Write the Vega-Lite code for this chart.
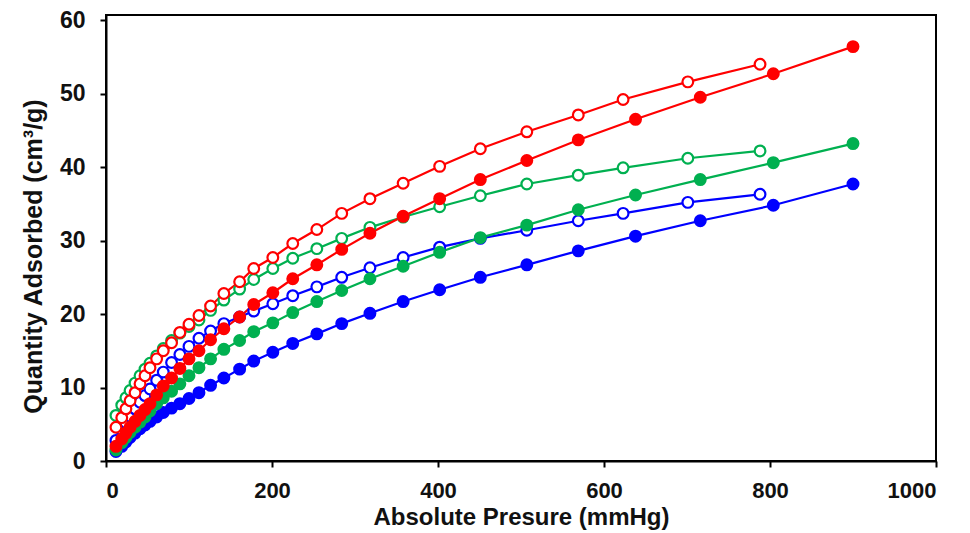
{
  "$schema": "https://vega.github.io/schema/vega-lite/v6.json",
  "width": 830,
  "height": 446,
  "autosize": "none",
  "padding": {"left": 106, "top": 15, "right": 34, "bottom": 72},
  "background": "white",
  "config": {
    "view": {"stroke": "black", "strokeWidth": 2},
    "font": "Liberation Sans",
    "axis": {"grid": false, "domainColor": "black", "domainWidth": 2, "tickColor": "black", "tickWidth": 2, "tickSize": 6,
      "labelFont": "Liberation Sans", "labelFontWeight": "bold", "labelFontSize": 23, "labelColor": "#111",
      "titleFont": "Liberation Sans", "titleFontWeight": "bold", "titleFontSize": 25, "titleColor": "#111"}
  },
  "data": {"values": [
    {"sample":"Blue","set":"filled","pressure":12,"quantity":1.3},{"sample":"Blue","set":"filled","pressure":19,"quantity":2.0},{"sample":"Blue","set":"filled","pressure":24,"quantity":2.6},{"sample":"Blue","set":"filled","pressure":29,"quantity":3.2},{"sample":"Blue","set":"filled","pressure":35,"quantity":3.8},{"sample":"Blue","set":"filled","pressure":41,"quantity":4.4},{"sample":"Blue","set":"filled","pressure":47,"quantity":4.9},{"sample":"Blue","set":"filled","pressure":53,"quantity":5.4},{"sample":"Blue","set":"filled","pressure":61,"quantity":6.0},{"sample":"Blue","set":"filled","pressure":69,"quantity":6.6},{"sample":"Blue","set":"filled","pressure":79,"quantity":7.2},{"sample":"Blue","set":"filled","pressure":89,"quantity":7.8},{"sample":"Blue","set":"filled","pressure":100,"quantity":8.5},{"sample":"Blue","set":"filled","pressure":112,"quantity":9.3},{"sample":"Blue","set":"filled","pressure":126,"quantity":10.3},{"sample":"Blue","set":"filled","pressure":142,"quantity":11.3},{"sample":"Blue","set":"filled","pressure":161,"quantity":12.5},{"sample":"Blue","set":"filled","pressure":178,"quantity":13.6},{"sample":"Blue","set":"filled","pressure":201,"quantity":14.8},{"sample":"Blue","set":"filled","pressure":225,"quantity":16.0},{"sample":"Blue","set":"filled","pressure":254,"quantity":17.3},{"sample":"Blue","set":"filled","pressure":284,"quantity":18.7},{"sample":"Blue","set":"filled","pressure":318,"quantity":20.1},{"sample":"Blue","set":"filled","pressure":358,"quantity":21.7},{"sample":"Blue","set":"filled","pressure":402,"quantity":23.3},{"sample":"Blue","set":"filled","pressure":451,"quantity":25.0},{"sample":"Blue","set":"filled","pressure":507,"quantity":26.7},{"sample":"Blue","set":"filled","pressure":569,"quantity":28.6},{"sample":"Blue","set":"filled","pressure":638,"quantity":30.6},{"sample":"Blue","set":"filled","pressure":716,"quantity":32.7},{"sample":"Blue","set":"filled","pressure":804,"quantity":34.8},{"sample":"Blue","set":"filled","pressure":900,"quantity":37.7},
    {"sample":"Blue","set":"open","pressure":12,"quantity":2.8},{"sample":"Blue","set":"open","pressure":19,"quantity":4.2},{"sample":"Blue","set":"open","pressure":24,"quantity":5.2},{"sample":"Blue","set":"open","pressure":29,"quantity":6.1},{"sample":"Blue","set":"open","pressure":35,"quantity":7.1},{"sample":"Blue","set":"open","pressure":41,"quantity":8.0},{"sample":"Blue","set":"open","pressure":47,"quantity":8.9},{"sample":"Blue","set":"open","pressure":53,"quantity":9.8},{"sample":"Blue","set":"open","pressure":61,"quantity":11.0},{"sample":"Blue","set":"open","pressure":69,"quantity":12.1},{"sample":"Blue","set":"open","pressure":79,"quantity":13.4},{"sample":"Blue","set":"open","pressure":89,"quantity":14.5},{"sample":"Blue","set":"open","pressure":100,"quantity":15.6},{"sample":"Blue","set":"open","pressure":112,"quantity":16.7},{"sample":"Blue","set":"open","pressure":126,"quantity":17.7},{"sample":"Blue","set":"open","pressure":142,"quantity":18.7},{"sample":"Blue","set":"open","pressure":161,"quantity":19.6},{"sample":"Blue","set":"open","pressure":178,"quantity":20.4},{"sample":"Blue","set":"open","pressure":201,"quantity":21.4},{"sample":"Blue","set":"open","pressure":225,"quantity":22.5},{"sample":"Blue","set":"open","pressure":254,"quantity":23.7},{"sample":"Blue","set":"open","pressure":284,"quantity":25.0},{"sample":"Blue","set":"open","pressure":318,"quantity":26.3},{"sample":"Blue","set":"open","pressure":358,"quantity":27.7},{"sample":"Blue","set":"open","pressure":402,"quantity":29.1},{"sample":"Blue","set":"open","pressure":451,"quantity":30.3},{"sample":"Blue","set":"open","pressure":507,"quantity":31.4},{"sample":"Blue","set":"open","pressure":569,"quantity":32.7},{"sample":"Blue","set":"open","pressure":623,"quantity":33.7},{"sample":"Blue","set":"open","pressure":701,"quantity":35.2},{"sample":"Blue","set":"open","pressure":788,"quantity":36.3},
    {"sample":"Green","set":"filled","pressure":12,"quantity":1.5},{"sample":"Green","set":"filled","pressure":19,"quantity":2.5},{"sample":"Green","set":"filled","pressure":24,"quantity":3.2},{"sample":"Green","set":"filled","pressure":29,"quantity":3.9},{"sample":"Green","set":"filled","pressure":35,"quantity":4.6},{"sample":"Green","set":"filled","pressure":41,"quantity":5.3},{"sample":"Green","set":"filled","pressure":47,"quantity":6.0},{"sample":"Green","set":"filled","pressure":53,"quantity":6.8},{"sample":"Green","set":"filled","pressure":61,"quantity":7.8},{"sample":"Green","set":"filled","pressure":69,"quantity":8.6},{"sample":"Green","set":"filled","pressure":79,"quantity":9.5},{"sample":"Green","set":"filled","pressure":89,"quantity":10.5},{"sample":"Green","set":"filled","pressure":100,"quantity":11.6},{"sample":"Green","set":"filled","pressure":112,"quantity":12.7},{"sample":"Green","set":"filled","pressure":126,"quantity":13.9},{"sample":"Green","set":"filled","pressure":142,"quantity":15.2},{"sample":"Green","set":"filled","pressure":161,"quantity":16.4},{"sample":"Green","set":"filled","pressure":178,"quantity":17.6},{"sample":"Green","set":"filled","pressure":201,"quantity":18.8},{"sample":"Green","set":"filled","pressure":225,"quantity":20.2},{"sample":"Green","set":"filled","pressure":254,"quantity":21.7},{"sample":"Green","set":"filled","pressure":284,"quantity":23.2},{"sample":"Green","set":"filled","pressure":318,"quantity":24.8},{"sample":"Green","set":"filled","pressure":358,"quantity":26.5},{"sample":"Green","set":"filled","pressure":402,"quantity":28.4},{"sample":"Green","set":"filled","pressure":451,"quantity":30.4},{"sample":"Green","set":"filled","pressure":507,"quantity":32.1},{"sample":"Green","set":"filled","pressure":569,"quantity":34.2},{"sample":"Green","set":"filled","pressure":638,"quantity":36.2},{"sample":"Green","set":"filled","pressure":716,"quantity":38.3},{"sample":"Green","set":"filled","pressure":804,"quantity":40.6},{"sample":"Green","set":"filled","pressure":900,"quantity":43.2},
    {"sample":"Green","set":"open","pressure":12,"quantity":6.2},{"sample":"Green","set":"open","pressure":19,"quantity":7.6},{"sample":"Green","set":"open","pressure":24,"quantity":8.6},{"sample":"Green","set":"open","pressure":29,"quantity":9.6},{"sample":"Green","set":"open","pressure":35,"quantity":10.6},{"sample":"Green","set":"open","pressure":41,"quantity":11.6},{"sample":"Green","set":"open","pressure":47,"quantity":12.5},{"sample":"Green","set":"open","pressure":53,"quantity":13.3},{"sample":"Green","set":"open","pressure":61,"quantity":14.3},{"sample":"Green","set":"open","pressure":69,"quantity":15.3},{"sample":"Green","set":"open","pressure":79,"quantity":16.4},{"sample":"Green","set":"open","pressure":89,"quantity":17.4},{"sample":"Green","set":"open","pressure":100,"quantity":18.3},{"sample":"Green","set":"open","pressure":112,"quantity":19.2},{"sample":"Green","set":"open","pressure":126,"quantity":20.5},{"sample":"Green","set":"open","pressure":142,"quantity":21.9},{"sample":"Green","set":"open","pressure":161,"quantity":23.4},{"sample":"Green","set":"open","pressure":178,"quantity":24.7},{"sample":"Green","set":"open","pressure":201,"quantity":26.2},{"sample":"Green","set":"open","pressure":225,"quantity":27.6},{"sample":"Green","set":"open","pressure":254,"quantity":28.9},{"sample":"Green","set":"open","pressure":284,"quantity":30.3},{"sample":"Green","set":"open","pressure":318,"quantity":31.8},{"sample":"Green","set":"open","pressure":358,"quantity":33.2},{"sample":"Green","set":"open","pressure":402,"quantity":34.6},{"sample":"Green","set":"open","pressure":451,"quantity":36.1},{"sample":"Green","set":"open","pressure":507,"quantity":37.7},{"sample":"Green","set":"open","pressure":569,"quantity":38.9},{"sample":"Green","set":"open","pressure":623,"quantity":39.9},{"sample":"Green","set":"open","pressure":701,"quantity":41.2},{"sample":"Green","set":"open","pressure":788,"quantity":42.2},
    {"sample":"Red","set":"filled","pressure":12,"quantity":2.0},{"sample":"Red","set":"filled","pressure":19,"quantity":3.0},{"sample":"Red","set":"filled","pressure":24,"quantity":3.8},{"sample":"Red","set":"filled","pressure":29,"quantity":4.6},{"sample":"Red","set":"filled","pressure":35,"quantity":5.4},{"sample":"Red","set":"filled","pressure":41,"quantity":6.2},{"sample":"Red","set":"filled","pressure":47,"quantity":7.0},{"sample":"Red","set":"filled","pressure":53,"quantity":7.8},{"sample":"Red","set":"filled","pressure":61,"quantity":9.0},{"sample":"Red","set":"filled","pressure":69,"quantity":10.2},{"sample":"Red","set":"filled","pressure":79,"quantity":11.3},{"sample":"Red","set":"filled","pressure":89,"quantity":12.6},{"sample":"Red","set":"filled","pressure":100,"quantity":13.9},{"sample":"Red","set":"filled","pressure":112,"quantity":15.0},{"sample":"Red","set":"filled","pressure":126,"quantity":16.5},{"sample":"Red","set":"filled","pressure":142,"quantity":18.0},{"sample":"Red","set":"filled","pressure":161,"quantity":19.6},{"sample":"Red","set":"filled","pressure":178,"quantity":21.3},{"sample":"Red","set":"filled","pressure":201,"quantity":22.9},{"sample":"Red","set":"filled","pressure":225,"quantity":24.8},{"sample":"Red","set":"filled","pressure":254,"quantity":26.7},{"sample":"Red","set":"filled","pressure":284,"quantity":28.8},{"sample":"Red","set":"filled","pressure":318,"quantity":31.0},{"sample":"Red","set":"filled","pressure":358,"quantity":33.3},{"sample":"Red","set":"filled","pressure":402,"quantity":35.7},{"sample":"Red","set":"filled","pressure":451,"quantity":38.3},{"sample":"Red","set":"filled","pressure":507,"quantity":40.9},{"sample":"Red","set":"filled","pressure":569,"quantity":43.7},{"sample":"Red","set":"filled","pressure":638,"quantity":46.5},{"sample":"Red","set":"filled","pressure":716,"quantity":49.5},{"sample":"Red","set":"filled","pressure":804,"quantity":52.7},{"sample":"Red","set":"filled","pressure":900,"quantity":56.4},
    {"sample":"Red","set":"open","pressure":12,"quantity":4.6},{"sample":"Red","set":"open","pressure":19,"quantity":5.9},{"sample":"Red","set":"open","pressure":24,"quantity":7.1},{"sample":"Red","set":"open","pressure":29,"quantity":8.2},{"sample":"Red","set":"open","pressure":35,"quantity":9.3},{"sample":"Red","set":"open","pressure":41,"quantity":10.5},{"sample":"Red","set":"open","pressure":47,"quantity":11.6},{"sample":"Red","set":"open","pressure":53,"quantity":12.7},{"sample":"Red","set":"open","pressure":61,"quantity":13.9},{"sample":"Red","set":"open","pressure":69,"quantity":15.0},{"sample":"Red","set":"open","pressure":79,"quantity":16.1},{"sample":"Red","set":"open","pressure":89,"quantity":17.5},{"sample":"Red","set":"open","pressure":100,"quantity":18.6},{"sample":"Red","set":"open","pressure":112,"quantity":19.8},{"sample":"Red","set":"open","pressure":126,"quantity":21.1},{"sample":"Red","set":"open","pressure":142,"quantity":22.8},{"sample":"Red","set":"open","pressure":161,"quantity":24.4},{"sample":"Red","set":"open","pressure":178,"quantity":26.2},{"sample":"Red","set":"open","pressure":201,"quantity":27.7},{"sample":"Red","set":"open","pressure":225,"quantity":29.6},{"sample":"Red","set":"open","pressure":254,"quantity":31.5},{"sample":"Red","set":"open","pressure":284,"quantity":33.7},{"sample":"Red","set":"open","pressure":318,"quantity":35.7},{"sample":"Red","set":"open","pressure":358,"quantity":37.8},{"sample":"Red","set":"open","pressure":402,"quantity":40.1},{"sample":"Red","set":"open","pressure":451,"quantity":42.5},{"sample":"Red","set":"open","pressure":507,"quantity":44.8},{"sample":"Red","set":"open","pressure":569,"quantity":47.1},{"sample":"Red","set":"open","pressure":623,"quantity":49.2},{"sample":"Red","set":"open","pressure":701,"quantity":51.6},{"sample":"Red","set":"open","pressure":788,"quantity":54.0}
  ]},
  "encoding": {
    "x": {"field": "pressure", "type": "quantitative", "scale": {"domain": [0, 1000], "nice": false},
      "axis": {"values": [0, 200, 400, 600, 800, 1000], "format": "d", "title": "Absolute Presure (mmHg)", "labelFontSize": 22, "labelPadding": 13, "titleFontSize": 24, "titlePadding": 4}},
    "y": {"field": "quantity", "type": "quantitative", "scale": {"domain": [0, 60.7], "nice": false},
      "axis": {"values": [0, 10, 20, 30, 40, 50, 60], "title": "Quantity Adsorbed (cm³/g)", "labelPadding": 15, "titlePadding": 13, "titleY": 241}}
  },
  "layer": [
    {
      "mark": {"type": "line", "strokeWidth": 2.2},
      "encoding": {
        "stroke": {"field": "sample", "type": "nominal", "scale": {"domain": ["Blue", "Green", "Red"], "range": ["#0000FF", "#00B050", "#FF0000"]}, "legend": null},
        "detail": {"field": "set", "type": "nominal"}
      }
    },
    {
      "mark": {"type": "point", "shape": "circle", "filled": true, "size": 115, "strokeWidth": 2.2, "opacity": 1},
      "encoding": {
        "stroke": {"field": "sample", "type": "nominal", "scale": {"domain": ["Blue", "Green", "Red"], "range": ["#0000FF", "#00B050", "#FF0000"]}, "legend": null},
        "fill": {"condition": {"test": "datum.set === 'open'", "value": "white"}, "field": "sample", "type": "nominal", "scale": {"domain": ["Blue", "Green", "Red"], "range": ["#0000FF", "#00B050", "#FF0000"]}, "legend": null}
      }
    }
  ]
}
